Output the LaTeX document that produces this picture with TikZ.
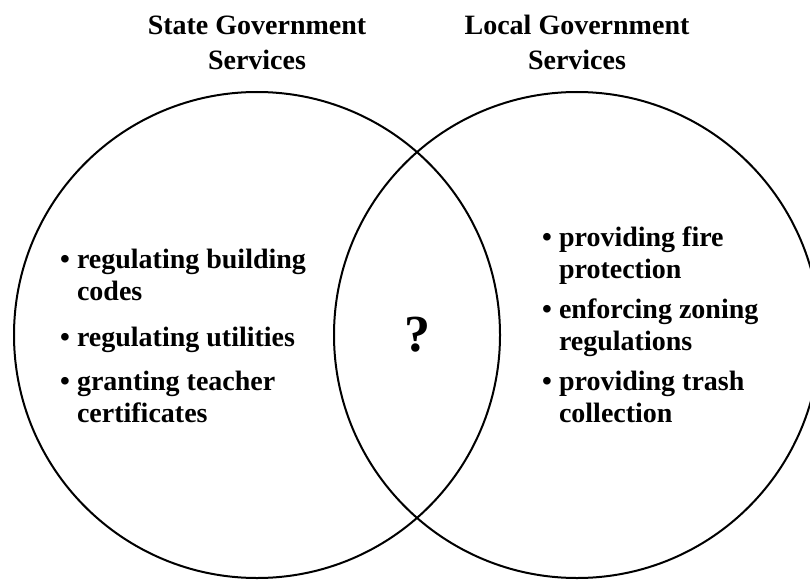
\documentclass[tikz,border=0pt]{standalone}
\usepackage{fontspec}
\setmainfont{Liberation Serif}
\usetikzlibrary{calc}

\tikzset{
  venn/.style={draw, circle, minimum size=486pt, line width=2pt, inner sep=0pt},
  head/.style={font=\fontsize{28}{35}\selectfont\bfseries, align=center, anchor=base, inner sep=0pt},
  items/.style={font=\fontsize{28}{32}\selectfont\bfseries, align=left, anchor=base west, inner sep=0pt},
  ask/.style={font=\fontsize{52}{52}\selectfont\bfseries, inner sep=0pt}
}
\newcommand{\gap}{\hphantom{\textbullet\ }}

\begin{document}
\begin{tikzpicture}[x=1pt,y=-1pt]
    \useasboundingbox (0,0) rectangle (810,580);
    \clip (0,0) rectangle (810,580);
    % the two sets
    \node[venn] (state) at (257,335) {};
    \node[venn] (local) at (577,335) {};
    % base is the last line here
    \node[head] (statehead) at (257,70) {State Government\\Services};
    \node[head] (localhead) at (577,70) {Local Government\\Services};
    % members
    \node[items] (statelist) at (60,422) {\textbullet\ regulating building\\
        \gap codes\\[14pt]
        \textbullet\ regulating utilities\\[12pt]
        \textbullet\ granting teacher\\
        \gap certificates};
    \node[items] (locallist) at (542,422) {\textbullet\ providing fire\\
        \gap protection\\[8pt]
        \textbullet\ enforcing zoning\\
        \gap regulations\\[8pt]
        \textbullet\ providing trash\\
        \gap collection};
    % overlap
    \node[ask] (overlap) at ($(state.center)!0.5!(local.center)$) {?};
\end{tikzpicture}
\end{document}
